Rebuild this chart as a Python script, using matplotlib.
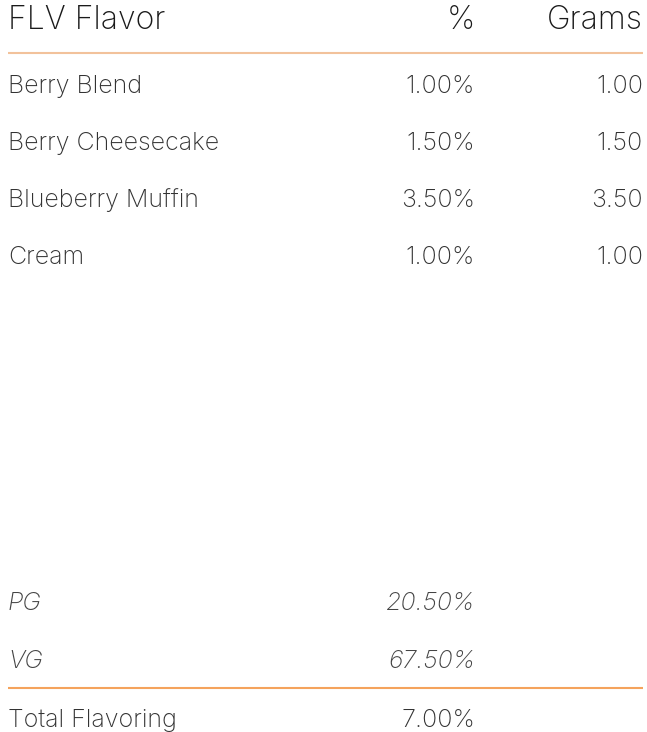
import matplotlib
matplotlib.use("Agg")
from matplotlib import pyplot as plt

# table contents
headers = ["FLV Flavor", "%", "Grams"]
flavors = ["Berry Blend", "Berry Cheesecake", "Blueberry Muffin", "Cream"]
percents = [1.00, 1.50, 3.50, 1.00]
grams = [1.00, 1.50, 3.50, 1.00]
base_names = ["PG", "VG"]
base_percents = [20.50, 67.50]
total_label = "Total Flavoring"
total_percent = 7.00

W, H = 647, 732
fig = plt.figure(figsize=(W / 100, H / 100), dpi=100)
ax = fig.add_axes([0, 0, 1, 1])
ax.set_xlim(0, W)
ax.set_ylim(H, 0)
ax.axis('off')

font = dict(family=['Inter', 'DejaVu Sans'], fontweight='light', va='baseline')
x_name, x_pct, x_grams = 8, 475, 643
body = 18
head = 23

ax.text(x_name, 29, headers[0], fontsize=head, color='#1a1a1a', ha='left', **font)
ax.text(x_pct, 29, headers[1], fontsize=head, color='#1a1a1a', ha='right', **font)
ax.text(x_grams, 29, headers[2], fontsize=head, color='#1a1a1a', ha='right', **font)
ax.plot([8, 643], [53, 53], color='#f2c29b', lw=1.5, solid_capstyle='butt')

row_y = 93
for name, p, g in zip(flavors, percents, grams):
    ax.text(x_name, row_y, name, fontsize=body, color='#333333', ha='left', **font)
    ax.text(x_pct, row_y, "%.2f%%" % p, fontsize=body, color='#333333', ha='right', **font)
    ax.text(x_grams, row_y, "%.2f" % g, fontsize=body, color='#333333', ha='right', **font)
    row_y += 57

base_y = 610
for name, p in zip(base_names, base_percents):
    ax.text(x_name, base_y, name, fontsize=body, color='#444444', ha='left',
            style='italic', **font)
    ax.text(x_pct, base_y, "%.2f%%" % p, fontsize=body, color='#444444', ha='right',
            style='italic', **font)
    base_y += 58

ax.plot([8, 643], [688, 688], color='#f5a35c', lw=1.5, solid_capstyle='butt')
ax.text(x_name, 727, total_label, fontsize=body, color='#333333', ha='left', **font)
ax.text(x_pct, 727, "%.2f%%" % total_percent, fontsize=body, color='#333333', ha='right', **font)

fig.savefig("out.png", dpi=100)
